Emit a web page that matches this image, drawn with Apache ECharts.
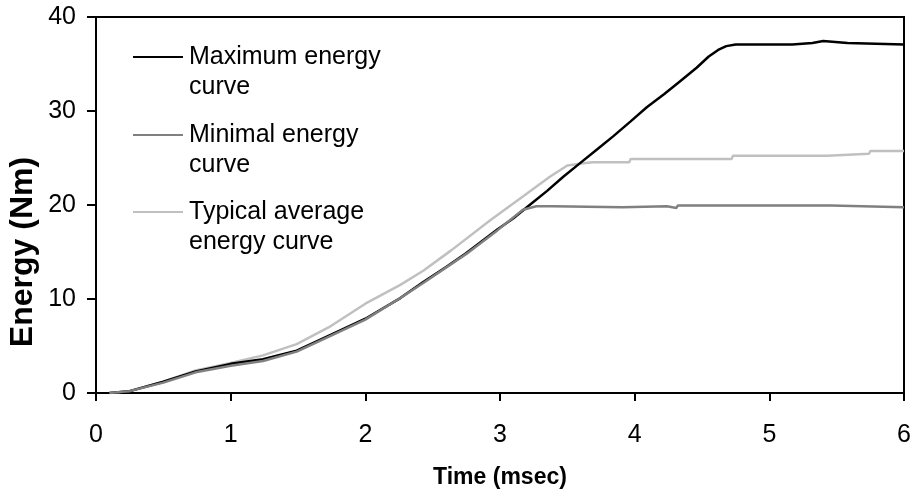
<!DOCTYPE html>
<html>
<head>
<meta charset="utf-8">
<script src="https://cdn.jsdelivr.net/npm/echarts@6/dist/echarts.min.js"></script>
<style>
html,body{margin:0;padding:0;background:#fff;}
#chart{width:915px;height:496px;}
</style>
</head>
<body>
<div id="chart"></div>
<script>
// Axis ticks
const xTicks = [0, 1, 2, 3, 4, 5, 6];
const yTicks = [0, 10, 20, 30, 40];

// Maximum energy curve
const maxTime = [0.1, 0.25, 0.5, 0.74, 1.0, 1.24, 1.49, 1.73, 2.0, 2.26, 2.43, 2.6, 2.75, 2.98, 3.10, 3.22, 3.35, 3.47, 3.59, 3.72, 3.84, 3.97, 4.09, 4.22, 4.34, 4.46, 4.55, 4.62, 4.68, 4.75, 5.17, 5.18, 5.32, 5.33, 5.4, 5.41, 5.58, 5.59, 6.0];
const maxEnergy = [0, 0.2, 1.2, 2.3, 3.1, 3.6, 4.5, 6.1, 7.9, 10.1, 11.8, 13.4, 14.9, 17.4, 18.6, 20.0, 21.5, 23.0, 24.4, 25.9, 27.3, 28.9, 30.4, 31.8, 33.2, 34.6, 35.8, 36.5, 36.9, 37.07, 37.07, 37.24, 37.24, 37.45, 37.45, 37.24, 37.24, 37.07, 37.07];

// Minimal energy curve
const minTime = [0.1, 0.25, 0.5, 0.74, 1.0, 1.24, 1.49, 1.73, 2.0, 2.26, 2.43, 2.75, 2.98, 3.17, 3.27, 3.39, 3.4, 3.91, 3.92, 4.24, 4.25, 4.31, 4.32, 5.46, 5.47, 6.0];
const minEnergy = [0, 0.2, 1.1, 2.2, 2.9, 3.4, 4.4, 6.0, 7.8, 10.1, 11.7, 14.8, 17.3, 19.5, 19.86, 19.86, 19.76, 19.76, 19.86, 19.86, 19.69, 19.69, 19.94, 19.94, 19.76, 19.76];

// Typical average energy curve
const typTime = [0.1, 0.25, 0.5, 0.74, 1.0, 1.24, 1.49, 1.73, 2.0, 2.26, 2.43, 2.64, 2.93, 3.17, 3.37, 3.5, 3.62, 3.69, 3.96, 3.97, 4.72, 4.73, 5.43, 5.44, 5.74, 5.75, 6.0];
const typEnergy = [0, 0.2, 1.2, 2.4, 3.2, 4.0, 5.2, 7.0, 9.5, 11.5, 13.0, 15.2, 18.4, 20.9, 23.0, 24.2, 24.45, 24.55, 24.55, 24.9, 24.9, 25.25, 25.25, 25.45, 25.45, 25.75, 25.75];

const seriesNames = ['Maximum energy\ncurve', 'Minimal energy\ncurve', 'Typical average\nenergy curve'];
const seriesColors = ['#000000', '#808080', '#c0c0c0'];

function pairs(t, v) { return t.map((x, i) => [x, v[i]]); }

const FONT = 'Liberation Sans, Arial, sans-serif';
const chart = echarts.init(document.getElementById('chart'), null, {renderer: 'canvas'});

const legendGraphics = [];
const legendTops = [57, 135, 212];
seriesNames.forEach((name, i) => {
  legendGraphics.push({
    type: 'line', silent: true,
    shape: {x1: 133, y1: legendTops[i], x2: 183, y2: legendTops[i]},
    style: {stroke: seriesColors[i], lineWidth: 2}
  });
  legendGraphics.push({
    type: 'text', silent: true, x: 189, y: legendTops[i] - 15,
    style: {text: name, font: '25px ' + FONT, fill: '#000', lineHeight: 30, verticalAlign: 'top', align: 'left'}
  });
});

chart.setOption({
  animation: false,
  backgroundColor: '#fff',
  grid: {left: 96, right: 11, top: 17, bottom: 103, show: true, borderColor: '#000', borderWidth: 2, backgroundColor: 'transparent'},
  xAxis: {
    type: 'value', min: xTicks[0], max: xTicks[xTicks.length - 1], interval: 1,
    name: 'Time (msec)', nameLocation: 'middle', nameGap: 73,
    nameTextStyle: {fontFamily: FONT, fontWeight: 'bold', fontSize: 23, color: '#000'},
    axisLine: {lineStyle: {color: '#000', width: 2}},
    axisTick: {show: true, inside: false, length: 8, lineStyle: {color: '#000', width: 2}},
    axisLabel: {fontFamily: FONT, fontSize: 25, color: '#000', margin: 30},
    splitLine: {show: false}
  },
  yAxis: {
    type: 'value', min: yTicks[0], max: yTicks[yTicks.length - 1], interval: 10,
    axisLine: {show: true, lineStyle: {color: '#000', width: 2}},
    axisTick: {show: true, inside: false, length: 9, lineStyle: {color: '#000', width: 2}},
    axisLabel: {fontFamily: FONT, fontSize: 25, color: '#000', margin: 20},
    splitLine: {show: false}
  },
  graphic: [
    {
      type: 'text', silent: true, x: 23, y: 252, rotation: Math.PI / 2,
      style: {text: 'Energy (Nm)', font: 'bold 32px ' + FONT, fill: '#000', align: 'center', verticalAlign: 'middle'}
    }
  ].concat(legendGraphics),
  series: [
    {name: seriesNames[2], type: 'line', data: pairs(typTime, typEnergy), showSymbol: false, symbol: 'none', lineStyle: {color: seriesColors[2], width: 2.5}, z: 2},
    {name: seriesNames[0], type: 'line', data: pairs(maxTime, maxEnergy), showSymbol: false, symbol: 'none', lineStyle: {color: seriesColors[0], width: 2.5}, z: 3},
    {name: seriesNames[1], type: 'line', data: pairs(minTime, minEnergy), showSymbol: false, symbol: 'none', lineStyle: {color: seriesColors[1], width: 2.5}, z: 4}
  ]
});
</script>
</body>
</html>
